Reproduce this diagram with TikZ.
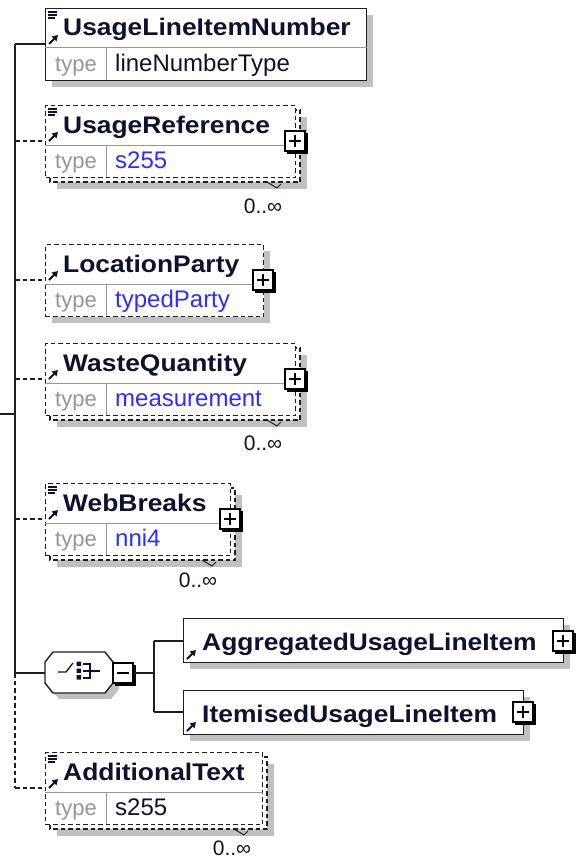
\documentclass[tikz,border=0pt]{standalone}
\usepackage{fontspec}
\setmainfont{Liberation Sans}
\newfontfamily\namefont[FakeStretch=1.1]{Liberation Sans}
\usetikzlibrary{arrows.meta,calc}
\definecolor{shadowgray}{RGB}{192,192,192}
\definecolor{namecol}{RGB}{16,16,48}
\definecolor{typecol}{RGB}{150,150,150}
\definecolor{bluetype}{RGB}{45,45,255}
\definecolor{divcol}{RGB}{150,150,150}
\definecolor{bordercol}{RGB}{30,30,30}
\tikzset{
  box/.style={draw=bordercol, line width=1.4pt, fill=white},
  optbox/.style={box, dash pattern=on 4.5pt off 3pt},
  conn/.style={draw=bordercol, line width=1.4pt},
  optconn/.style={conn, dash pattern=on 4.5pt off 3pt},
  divline/.style={draw=divcol, line width=1pt},
  nametext/.style={font=\namefont\bfseries\fontsize{24}{24}\selectfont, text=namecol, anchor=base west, inner sep=0pt},
  typelbl/.style={font=\fontsize{22}{22}\selectfont, text=typecol, anchor=base, inner sep=0pt},
  typeval/.style={font=\fontsize{24}{24}\selectfont, anchor=base west, inner sep=0pt},
  occ/.style={font=\fontsize{21}{21}\selectfont, text=namecol, inner sep=0pt},
}
\newcommand{\RefArrow}[2]{\draw[line width=2pt, namecol, -{Triangle[length=5.5pt,width=6.5pt]}] (#1,#2) -- (#1+9,#2-9);}
\newcommand{\DocIcon}[1]{\draw[line width=1.1pt, namecol] (48,#1+4) -- (57,#1+4) (48,#1+7) -- (57,#1+7) (48,#1+10) -- (55,#1+10);}
\newcommand{\PlusBox}[3]{%
  \fill[black] (#2-8,#3-8) rectangle (#2+12.5,#3+12.5);
  \node[draw=black, fill=white, line width=1.2pt, minimum size=20pt, inner sep=0pt] (#1) at (#2,#3) {};
  \draw[line width=1.3pt] (#2-6,#3) -- (#2+6,#3) (#2,#3-6) -- (#2,#3+6);}
\newcommand{\ElemT}[8]{%
  \ifnum#8=1
    \fill[shadowgray] (57,#2+12) rectangle (#3+12,#2+84);
    \draw[optbox] (50,#2+5) rectangle (#3+5,#2+77);
    \draw[line width=1pt, bordercol] (#3-28,#2+77) -- (#3-18,#2+83) -- (#3-14,#2+79);
  \else
    \fill[shadowgray] (52,#2+7) rectangle (#3+7,#2+79);
  \fi
  \node[#7, anchor=north west, inner sep=0pt, minimum width={(#3-45)*1pt}, minimum height=72pt] (#1) at (45,#2) {};
  \draw[divline] ($(#1.north west)+(0,40)$) -- ($(#1.north east)+(0,40)$);
  \draw[divline] (106,#2+40) -- (106,#2+72);
  \node[nametext] (#1name) at (63,#2+28) {#4};
  \node[typelbl] (#1tl) at (76,#2+63) {type};
  \node[typeval, text=#6] (#1tv) at (115,#2+63) {#5};
  \RefArrow{49}{#2+36}
}
\begin{document}
\begin{tikzpicture}[x=1pt,y=-1pt]
\useasboundingbox (0,0) rectangle (581,859);
\fill[white] (0,0) rectangle (581,859);
% trunk
\coordinate (ttop) at (15,44);
\coordinate (tstubL) at (0,414);
\coordinate (tstubR) at (15,414);
\coordinate (tchoice) at (15,673);
\coordinate (tend) at (15,788);
\coordinate (t2) at (15,141);
\coordinate (t3) at (15,280);
\coordinate (t4) at (15,379);
\coordinate (t5) at (15,519);
\draw[conn] (ttop) -- (tchoice);
\draw[conn] (tstubL) -- (tstubR);
\draw[optconn] (tchoice) -- (tend);
% elements
\ElemT{b1}{8}{366}{UsageLineItemNumber}{lineNumberType}{namecol}{box}{0}
\DocIcon{8}
\ElemT{b2}{105}{295}{UsageReference}{s255}{bluetype}{optbox}{1}
\DocIcon{105}
\PlusBox{p2}{295}{141}
\node[occ] (o2) at (263,206) {0..∞};
\ElemT{b3}{244}{263}{LocationParty}{typedParty}{bluetype}{optbox}{0}
\PlusBox{p3}{263}{280}
\ElemT{b4}{343}{295}{WasteQuantity}{measurement}{bluetype}{optbox}{1}
\PlusBox{p4}{295}{379}
\node[occ] (o4) at (263,443) {0..∞};
\ElemT{b5}{483}{230}{WebBreaks}{nni4}{bluetype}{optbox}{1}
\DocIcon{483}
\PlusBox{p5}{230}{519}
\node[occ] (o5) at (198,580) {0..∞};
\ElemT{b7}{752}{262}{AdditionalText}{s255}{namecol}{optbox}{1}
\DocIcon{752}
\node[occ] (o7) at (232,848) {0..∞};
% connectors to elements
\draw[conn] (ttop) -- ($(b1.north west)+(0,36)$);
\draw[optconn] (t2) -- ($(b2.north west)+(0,36)$);
\draw[optconn] (t3) -- ($(b3.north west)+(0,36)$);
\draw[optconn] (t4) -- ($(b4.north west)+(0,36)$);
\draw[optconn] (t5) -- ($(b5.north west)+(0,36)$);
\draw[optconn] (tend) -- ($(b7.north west)+(0,36)$);
% choice compositor
\fill[shadowgray] (59,658) -- (111,658) -- (119,668) -- (119,689) -- (111,699) -- (59,699) -- (51,689) -- (51,668) -- cycle;
\draw[conn, fill=white] (53,652) -- (105,652) -- (113,662) -- (113,683) -- (105,693) -- (53,693) -- (45,683) -- (45,662) -- cycle;
\coordinate (chW) at (45,673);
\draw[line width=1.3pt, namecol] (58,672) -- (66,672) -- (73,663);
\fill[namecol] (76.5,661.5) rectangle (81,666) (76.5,668.5) rectangle (81,673) (76.5,675) rectangle (81,679.5);
\draw[line width=1.2pt, namecol] (83,664) -- (90,664) -- (90,678) -- (83,678) (83,671) -- (90,671) (90,671) -- (100,671);
\fill[black] (115,665) rectangle (135.5,685.5);
\node[draw=black, fill=white, line width=1.2pt, minimum size=20pt, inner sep=0pt] (minus) at (123,673) {};
\draw[line width=1.3pt] (117,673) -- (129,673);
\draw[conn] (tchoice) -- (chW);
\coordinate (brM) at (154,673);
\coordinate (brT) at (154,641);
\coordinate (brB) at (154,712);
\draw[conn] (minus.east) -- (brM);
\draw[conn] (brT) -- (brB);
% Aggregated
\fill[shadowgray] (190,625) rectangle (570,669);
\node[box, anchor=north west, inner sep=0pt, minimum width=380pt, minimum height=44pt] (agg) at (183,618) {};
\node[nametext] (aggname) at (202,650) {AggregatedUsageLineItem};
\RefArrow{187}{659}
\PlusBox{pa}{563}{641}
% Itemised
\fill[shadowgray] (190,697) rectangle (530,741);
\node[box, anchor=north west, inner sep=0pt, minimum width=340pt, minimum height=44pt] (itm) at (183,690) {};
\node[nametext] (itmname) at (202,722) {ItemisedUsageLineItem};
\RefArrow{187}{731}
\PlusBox{pi}{523}{712}
\draw[conn] (brT) -- (agg.west |- brT);
\draw[conn] (brB) -- (itm.west |- brB);
\end{tikzpicture}
\end{document}
